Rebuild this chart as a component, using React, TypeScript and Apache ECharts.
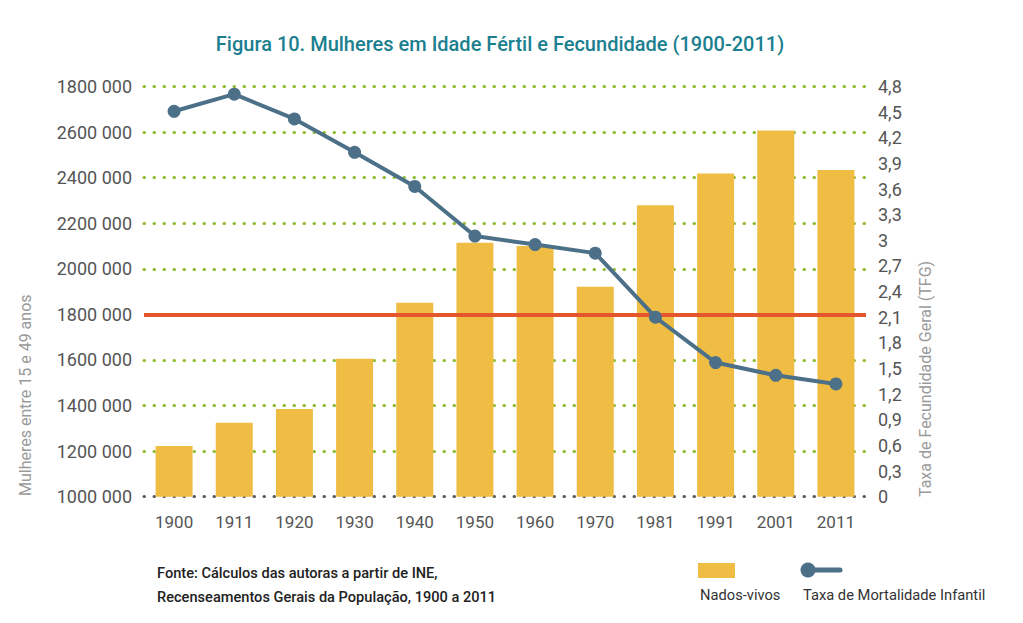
import React, { useEffect, useRef } from "react";
import * as echarts from "echarts";

const categories = ["1900", "1911", "1920", "1930", "1940", "1950", "1960", "1970", "1981", "1991", "2001", "2011"];
const nadosVivos = [1222000, 1325000, 1385000, 1605000, 1851000, 2114000, 2100000, 1921000, 2279000, 2418000, 2607000, 2434000];
const taxa = [4.51, 4.71, 4.42, 4.03, 3.63, 3.05, 2.95, 2.85, 2.1, 1.57, 1.42, 1.32];
const leftTickLabels = ["1000 000", "1200 000", "1400 000", "1600 000", "1800 000", "2000 000", "2200 000", "2400 000", "2600 000", "1800 000"];
const rightTickLabels = ["0", "0,3", "0,6", "0,9", "1,2", "1,5", "1,8", "2,1", "2,4", "2,7", "3", "3,3", "3,6", "3,9", "4,2", "4,5", "4,8"];
const referenceLine = 1800000;

const GREEN = "#8fbc2f";
const FONT = "Roboto";

export default function App() {
  const ref = useRef<HTMLDivElement>(null);
  useEffect(() => {
    if (!ref.current) return;
    const chart = echarts.init(ref.current, null, { renderer: "svg" });
    const splitColors = leftTickLabels.map((_, i) => (i === 0 ? "#5a5a5a" : i === 4 ? "rgba(0,0,0,0)" : GREEN));
    chart.setOption({
      animation: false,
      backgroundColor: "#ffffff",
      title: {
        text: "Figura 10. Mulheres em Idade Fértil e Fecundidade (1900-2011)",
        left: 495,
        top: 29,
        textAlign: "center",
        textStyle: { color: "#1b7f8f", fontSize: 20, fontWeight: 500, fontFamily: FONT },
      },
      grid: { left: 144, right: 157, top: 86.5, bottom: 126.3 },
      xAxis: {
        type: "category",
        data: categories,
        axisLine: { show: false },
        axisTick: { show: false },
        axisLabel: { color: "#555", fontSize: 17, fontFamily: FONT, margin: 17 },
      },
      yAxis: [
        {
          type: "value",
          min: 1000000,
          max: 2800000,
          interval: 200000,
          axisLine: { show: false },
          axisTick: { show: false },
          axisLabel: {
            color: "#555",
            fontSize: 18,
            fontFamily: FONT,
            margin: 12,
            formatter: (v: number) => leftTickLabels[Math.round((v - 1000000) / 200000)] ?? "",
          },
          splitLine: {
            show: true,
            lineStyle: { color: splitColors, width: 3, type: [0.5, 9.5], cap: "round" },
          },
        },
        {
          type: "value",
          min: 0,
          max: 4.8,
          interval: 0.3,
          axisLine: { show: false },
          axisTick: { show: false },
          splitLine: { show: false },
          axisLabel: {
            color: "#555",
            fontSize: 18,
            fontFamily: FONT,
            margin: 12,
            formatter: (v: number) => rightTickLabels[Math.round(v / 0.3)] ?? "",
          },
        },
      ],
      series: [
        {
          name: "Nados-vivos",
          type: "bar",
          data: nadosVivos,
          yAxisIndex: 0,
          barWidth: 37,
          itemStyle: { color: "#efbd44" },
          markLine: {
            silent: true,
            symbol: "none",
            label: { show: false },
            lineStyle: { color: "#e4572e", width: 4, type: "solid" },
            data: [{ yAxis: referenceLine }],
            z: 5,
          },
        },
        {
          name: "Taxa de Mortalidade Infantil",
          type: "line",
          data: taxa,
          yAxisIndex: 1,
          z: 10,
          symbol: "circle",
          symbolSize: 13,
          lineStyle: { color: "#4d7089", width: 4 },
          itemStyle: { color: "#4d7089" },
        },
      ],
      graphic: [
        {
          type: "text",
          x: 25,
          y: 496,
          rotation: Math.PI / 2,
          style: { text: "Mulheres entre 15 e 49 anos", fill: "#9a9a9a", fontSize: 16, fontFamily: FONT, align: "left", verticalAlign: "middle" },
        },
        {
          type: "text",
          x: 925,
          y: 497,
          rotation: Math.PI / 2,
          style: { text: "Taxa de Fecundidade Geral (TFG)", fill: "#9a9a9a", fontSize: 16, fontFamily: FONT, align: "left", verticalAlign: "middle" },
        },
        {
          type: "text",
          x: 157,
          y: 573,
          style: { text: "Fonte: Cálculos das autoras a partir de INE,", fill: "#222", fontSize: 14.6, fontWeight: 500, fontFamily: FONT, align: "left", verticalAlign: "middle" },
        },
        {
          type: "text",
          x: 157,
          y: 597,
          style: { text: "Recenseamentos Gerais da População, 1900 a 2011", fill: "#222", fontSize: 14.6, fontWeight: 500, fontFamily: FONT, align: "left", verticalAlign: "middle" },
        },
        { type: "rect", shape: { x: 698, y: 563, width: 37, height: 15 }, style: { fill: "#efbd44" } },
        {
          type: "text",
          x: 700,
          y: 595,
          style: { text: "Nados-vivos", fill: "#333", fontSize: 14.7, fontFamily: FONT, align: "left", verticalAlign: "middle" },
        },
        { type: "line", shape: { x1: 806, y1: 570, x2: 840, y2: 570 }, style: { stroke: "#4d7089", lineWidth: 5, lineCap: "round" } },
        { type: "circle", shape: { cx: 808, cy: 570, r: 7.5 }, style: { fill: "#4d7089" } },
        {
          type: "text",
          x: 803,
          y: 595,
          style: { text: "Taxa de Mortalidade Infantil", fill: "#333", fontSize: 14.7, fontFamily: FONT, align: "left", verticalAlign: "middle" },
        },
      ],
    });
    return () => chart.dispose();
  }, []);
  return <div ref={ref} style={{ position: "fixed", left: 0, top: 0, width: 1023, height: 623 }} />;
}
